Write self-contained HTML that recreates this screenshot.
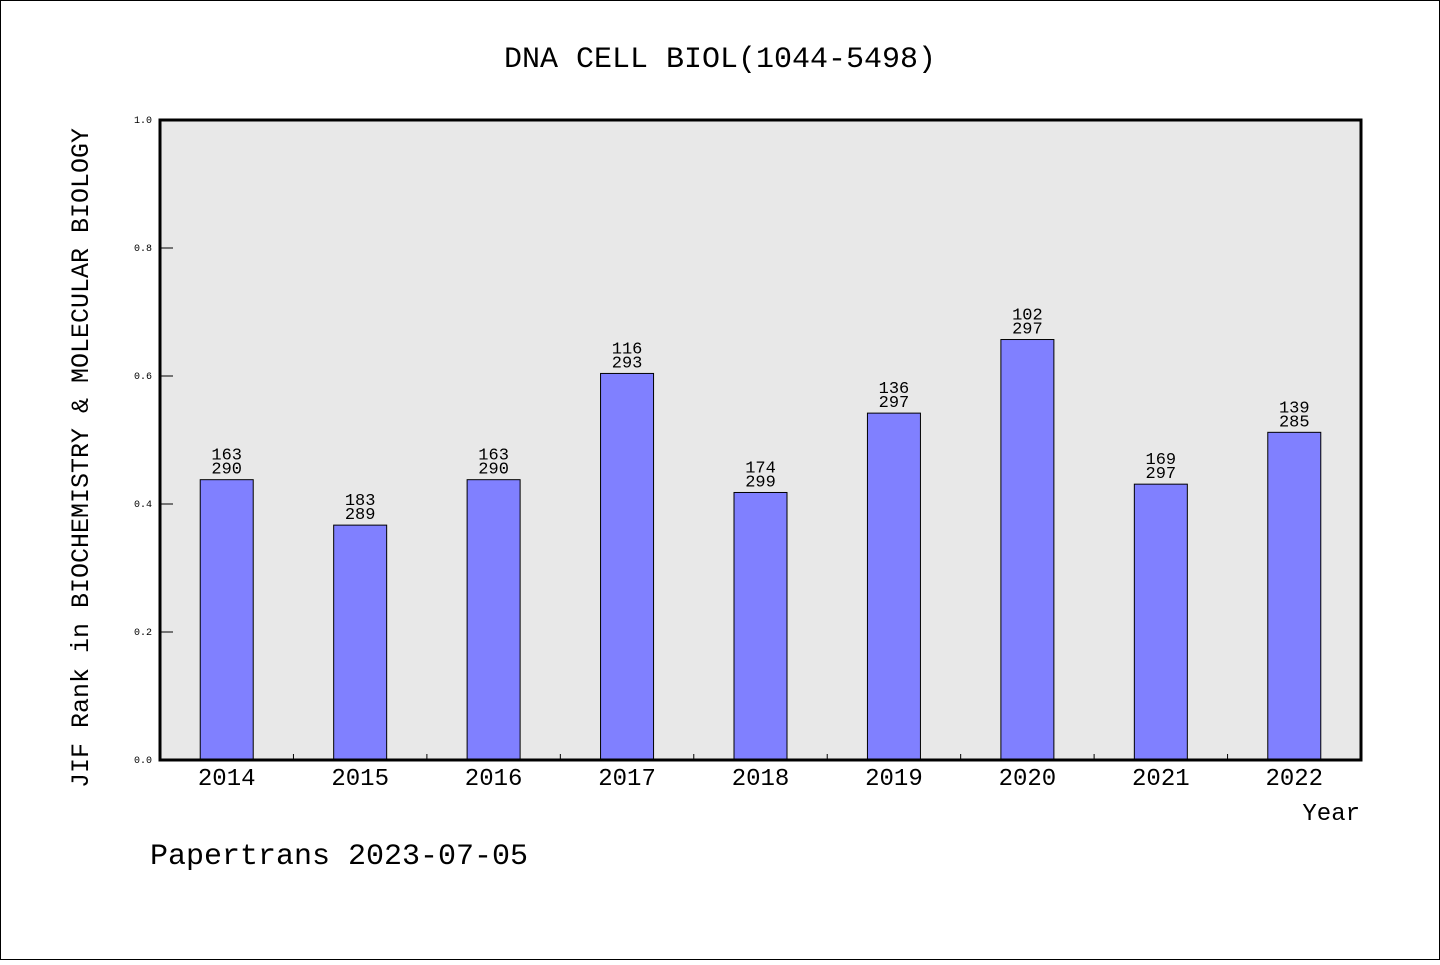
<!DOCTYPE html>
<html><head><meta charset="utf-8"><style>
body{margin:0;background:#fff}
svg text{font-family:"Liberation Mono","DejaVu Sans Mono",monospace;fill:#000}
</style></head><body>
<svg width="1440" height="960">
<rect x="0.5" y="0.5" width="1439" height="959" fill="#fff" stroke="#000"/>
<text x="720" y="67" font-size="30" text-anchor="middle">DNA CELL BIOL(1044-5498)</text>
<rect x="160" y="120" width="1201" height="640" fill="#e8e8e8"/>
<g id="bars"></g>
<rect x="160" y="120" width="1201" height="640" fill="none" stroke="#000" stroke-width="3"/>
<text transform="translate(88,458) rotate(-90)" font-size="25" text-anchor="middle">JIF Rank in BIOCHEMISTRY &amp; MOLECULAR BIOLOGY</text>
<text x="1360" y="820" font-size="24" text-anchor="end">Year</text>
<text x="150" y="864" font-size="30">Papertrans 2023-07-05</text>
</svg>
<script>
const years=["2014","2015","2016","2017","2018","2019","2020","2021","2022"];
const values=[0.438,0.367,0.438,0.604,0.418,0.542,0.657,0.431,0.512];
const ranks=["163","183","163","116","174","136","102","169","139"];
const totals=["290","289","290","293","299","297","297","297","285"];
const yTicks=[0,0.2,0.4,0.6,0.8,1.0];
const NS="http://www.w3.org/2000/svg";
const g=document.getElementById('bars');
const x0=160,w=1201,yb=760,h=640,slot=w/years.length;
const y=v=>yb-v*h;
function el(t,a,txt){const e=document.createElementNS(NS,t);for(const k in a)e.setAttribute(k,a[k]);if(txt!==undefined)e.textContent=txt;g.appendChild(e);return e;}
yTicks.forEach(t=>{
 const l=el('line',{x1:x0,x2:x0+13,y1:y(t),y2:y(t),stroke:'#000'});
 
 
 const tx=el('text',{x:152,y:y(t)+3,'font-size':10,'text-anchor':'end'},t.toFixed(1));
 
 
});
years.forEach((yr,i)=>{
 const c=x0+slot*(i+0.5);
 if(i>0){const tk=el('line',{x1:x0+slot*i,x2:x0+slot*i,y1:yb,y2:yb-6,stroke:'#000'});
 
 }
 const b=el('rect',{x:c-26.5,y:y(values[i]),width:53,height:values[i]*h,fill:'#8080ff',stroke:'#000'});
 
 
 const r=el('text',{x:c,y:y(values[i])-20,'font-size':17,'text-anchor':'middle'},ranks[i]);
 
 
 const t=el('text',{x:c,y:y(values[i])-6,'font-size':17,'text-anchor':'middle'},totals[i]);
 
 
 const xl=el('text',{x:c,y:785,'font-size':24,'text-anchor':'middle'},yr);
 
 
});
</script>
</body></html>
